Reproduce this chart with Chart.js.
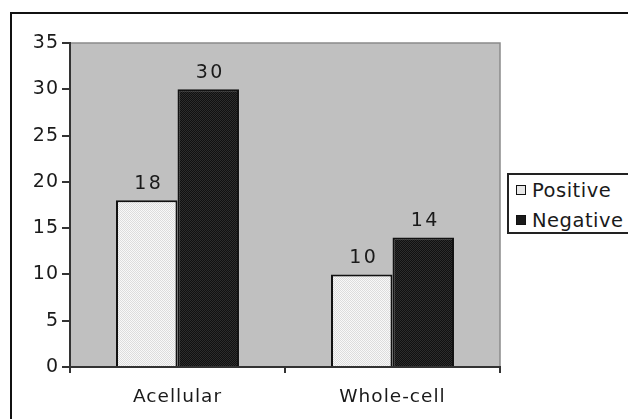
<!DOCTYPE html>
<html>
<head>
<meta charset="utf-8">
<script src="https://cdn.jsdelivr.net/npm/chart.js@4.4.1/dist/chart.umd.min.js"></script>
<style>
  html, body { margin: 0; padding: 0; background: #fff; overflow: hidden; }
  #wrap { position: relative; width: 628px; height: 419px; overflow: hidden; }
  #frame { position: absolute; left: 10px; top: 12px; width: 640px; height: 420px; border: 2px solid #111; box-sizing: border-box; }
  #chart { position: absolute; left: 0; top: 0; }
  #legend { position: absolute; left: 507px; top: 173px; width: 140px; height: 61px; border: 2px solid #222; box-sizing: border-box; background: #fff;
            font-family: "DejaVu Sans", sans-serif; font-size: 19.5px; color: #1a1a1a; letter-spacing: 0.5px; }
  .item { position: absolute; left: 7px; height: 22px; line-height: 22px; white-space: nowrap; }
  .sw { display: inline-block; width: 8px; height: 8px; border: 1.5px solid #111; margin-right: 6px; vertical-align: 2px; }
</style>
</head>
<body>
<div id="wrap">
  <div id="frame"></div>
  <canvas id="chart" width="628" height="419"></canvas>
  <div id="legend">
    <div class="item" style="top:5px"><span class="sw" style="background:#e8e8e8"></span>Positive</div>
    <div class="item" style="top:35px"><span class="sw" style="background:#1a1a1a"></span>Negative</div>
  </div>
</div>
<script>
const categories = ['Acellular', 'Whole-cell'];
const positive = [18, 10];
const negative = [30, 14];
const yTicks = [0, 5, 10, 15, 20, 25, 30, 35];

function makePattern(bg, dot) {
    const c = document.createElement('canvas');
    c.width = 2; c.height = 2;
    const g = c.getContext('2d');
    g.fillStyle = bg; g.fillRect(0, 0, 2, 2);
    g.fillStyle = dot; g.fillRect(0, 0, 1, 1); g.fillRect(1, 1, 1, 1);
    return document.getElementById('chart').getContext('2d').createPattern(c, 'repeat');
}

const plotBg = {
    id: 'plotBg',
    beforeDraw(chart) {
        const { ctx, chartArea: a } = chart;
        ctx.save();
        ctx.fillStyle = '#c0c0c0';
        ctx.fillRect(a.left, a.top, a.right - a.left, a.bottom - a.top);
        ctx.strokeStyle = '#8a8a8a';
        ctx.lineWidth = 1.5;
        ctx.beginPath();
        ctx.moveTo(a.left, a.top); ctx.lineTo(a.right, a.top); ctx.lineTo(a.right, a.bottom);
        ctx.stroke();
        ctx.restore();
    }
};

const spacing = {
    id: 'spacing',
    beforeUpdate(chart) { chart.ctx.letterSpacing = '1px'; },
    beforeDraw(chart) { chart.ctx.letterSpacing = '1px'; }
};

const valueLabels = {
    id: 'valueLabels',
    afterDatasetsDraw(chart) {
        const ctx = chart.ctx;
        ctx.save();
        ctx.font = '19px "DejaVu Sans", sans-serif';
        ctx.letterSpacing = '2.5px';
        ctx.fillStyle = '#1a1a1a';
        ctx.textAlign = 'center';
        ctx.textBaseline = 'bottom';
        chart.data.datasets.forEach((ds, i) => {
            chart.getDatasetMeta(i).data.forEach((bar, j) => {
                ctx.fillText(String(ds.data[j]), bar.x + 2, bar.y - 7);
            });
        });
        ctx.restore();
    }
};

new Chart(document.getElementById('chart'), {
    type: 'bar',
    data: {
        labels: categories,
        datasets: [
            { label: 'Positive', data: positive, backgroundColor: makePattern('#f8f8f8', '#dcdcdc'), borderColor: '#111', borderWidth: 2 },
            { label: 'Negative', data: negative, backgroundColor: makePattern('#101010', '#2c2c2c'), borderColor: '#111', borderWidth: 2 }
        ]
    },
    options: {
        responsive: false,
        animation: false,
        layout: { padding: { left: 0, top: 43, right: 128, bottom: 0 } },
        categoryPercentage: 0.572,
        barPercentage: 1,
        plugins: { legend: { display: false }, tooltip: { enabled: false } },
        scales: {
            x: {
                afterFit(s) { s.height = 52; },
                grid: { offset: true, drawOnChartArea: false, tickLength: 6, color: '#333', lineWidth: 2 },
                border: { color: '#333', width: 2 },
                ticks: { color: '#1a1a1a', padding: 13, font: { family: 'DejaVu Sans', size: 18.5 } }
            },
            y: {
                min: 0,
                max: 35,
                afterFit(s) { s.width = 70; },
                afterBuildTicks(s) { s.ticks = yTicks.map(v => ({ value: v })); },
                grid: { drawOnChartArea: false, tickLength: 8, color: '#333', lineWidth: 2 },
                border: { color: '#333', width: 2 },
                ticks: { color: '#1a1a1a', padding: 3, font: { family: 'DejaVu Sans', size: 19 } }
            }
        }
    },
    plugins: [plotBg, spacing, valueLabels]
});
</script>
</body>
</html>
